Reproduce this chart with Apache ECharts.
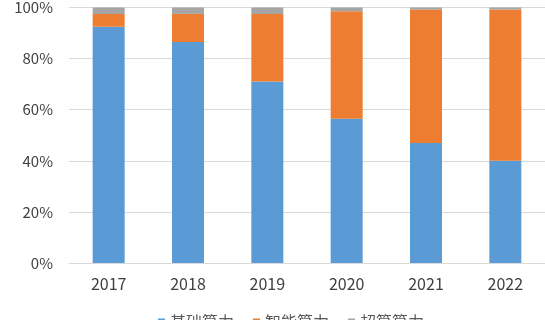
<!DOCTYPE html>
<html><head><meta charset="utf-8">
<script src="https://cdn.jsdelivr.net/npm/echarts@6/dist/echarts.min.js"></script>
<style>html,body{margin:0;padding:0;background:#fff}#c{width:545px;height:320px}</style>
</head><body><div id="c"></div>
<script>
const categories = ['2017','2018','2019','2020','2021','2022'];
const basic = [92.5, 86.5, 71, 56.5, 47, 40];
const smart = [5, 11, 26.5, 42, 52.2, 59.2];
const superc = [2.5, 2.5, 2.5, 1.5, 0.8, 0.8];
const seriesNames = ['基础算力','智能算力','超算算力'];
const colors = ['#5B9BD5','#ED7D31','#A5A5A5'];
const font = '"Noto Sans CJK SC","Noto Sans",sans-serif';
const chart = echarts.init(document.getElementById('c'));
const mk = (name, data, i) => ({name, type:'bar', stack:'a', data, barWidth:32,
  itemStyle:{color:colors[i]}});
chart.setOption({
  animation:false,
  grid:{left:69, top:6, width:483, bottom:57},
  legend:{top:309, left:153, itemWidth:7, itemHeight:7, icon:'rect', itemGap:19,
    textStyle:{fontSize:16, color:'#595959', fontFamily:font}, data:seriesNames},
  xAxis:{type:'category', data:categories,
    axisLine:{lineStyle:{color:'#d9d9d9'}}, axisTick:{show:false},
    axisLabel:{fontSize:16, color:'#404040', margin:13, fontFamily:font}},
  yAxis:{type:'value', min:0, max:100, interval:20,
    axisLabel:{formatter:'{value}%', fontSize:15, color:'#404040', margin:16, fontFamily:font},
    splitLine:{lineStyle:{color:'#d9d9d9'}}},
  series:[mk(seriesNames[0],basic,0), mk(seriesNames[1],smart,1), mk(seriesNames[2],superc,2)]
});
</script></body></html>
